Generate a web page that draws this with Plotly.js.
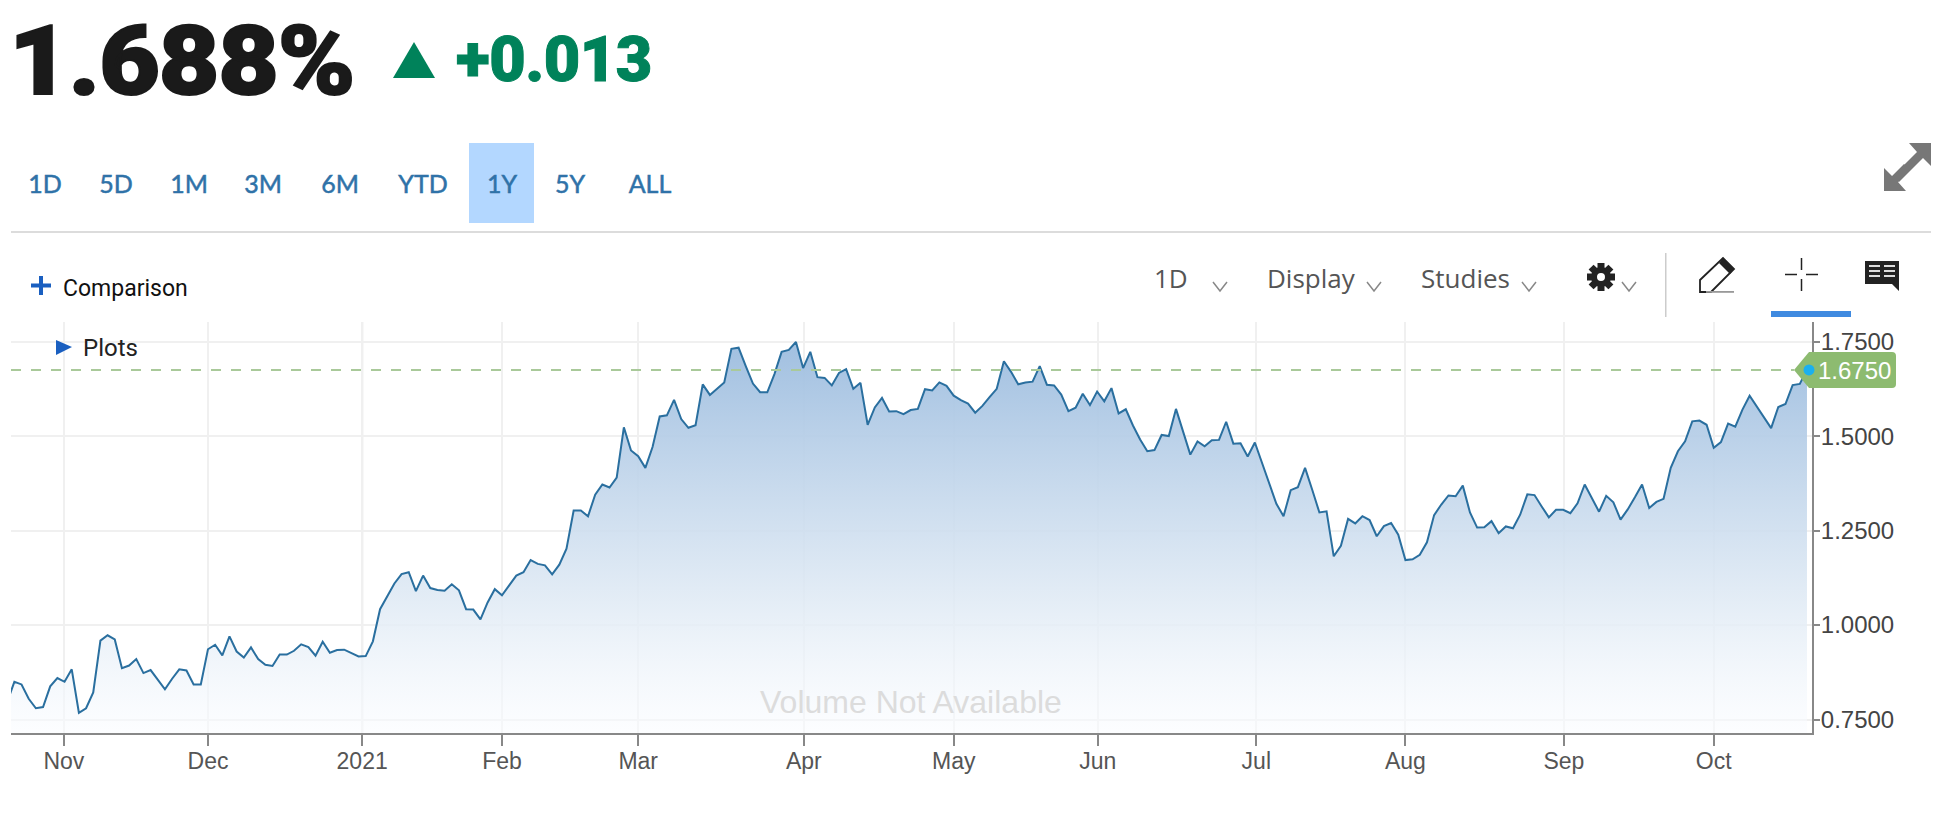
<!DOCTYPE html>
<html><head><meta charset="utf-8">
<script src="https://cdn.plot.ly/plotly-3.0.1.min.js"></script>
<style>
html,body{margin:0;padding:0;background:#fff;width:1946px;height:823px;overflow:hidden}
#chart{position:absolute;left:0;top:0;width:1946px;height:823px}
#ui{position:absolute;left:0;top:0;width:1946px;height:823px;pointer-events:none}
.t{position:absolute;white-space:nowrap;line-height:1}
.r{font-family:Lato,sans-serif;font-size:25px;color:#2f72a8;font-weight:400;-webkit-text-stroke:0.5px #2f72a8;top:171px;transform:translateX(-50%)}
.b{font-family:"Open Sans",sans-serif;font-size:26px;color:#555;top:265px}
</style></head><body>
<div id="chart"></div>
<div id="ui">
<svg width="1946" height="823" style="position:absolute;left:0;top:0">
<rect x="469" y="143" width="65" height="80" fill="#b3d7ff"/>
<rect x="11" y="231" width="1920" height="2" fill="#dcdcdc"/>
<path d="M393 78 L414 42 L435 78 Z" fill="#00825a"/>
<path d="M31 283.5H51V287.5H31ZM39 276H43V295H39Z" fill="#1a5fc0"/>
<path d="M56 340 L72 347 L56 355 Z" fill="#1a5fc0"/>
<g fill="none" stroke="#888" stroke-width="1.5">
<path d="M1213 282 L1220 291 L1227 282"/><path d="M1367 282 L1374 291 L1381 282"/>
<path d="M1522 282 L1529 291 L1536 282"/><path d="M1622 282 L1629 291 L1636 282"/></g>
<g transform="translate(1601 277)" fill="#222">
<circle r="7" fill="none" stroke="#222" stroke-width="6"/>
<rect x="-3.5" y="-14" width="7" height="6"/><rect x="-3.5" y="8" width="7" height="6"/><rect x="-14" y="-3.5" width="6" height="7"/><rect x="8" y="-3.5" width="6" height="7"/>
<g transform="rotate(45)"><rect x="-3.5" y="-14" width="7" height="6"/><rect x="-3.5" y="8" width="7" height="6"/><rect x="-14" y="-3.5" width="6" height="7"/><rect x="8" y="-3.5" width="6" height="7"/></g>
</g>
<rect x="1665" y="253" width="1.5" height="64" fill="#ccc"/>
<path d="M1700 292 L1700 280 L1723 258 L1734 269 L1711 292 Z" fill="none" stroke="#222" stroke-width="1.8"/>
<path d="M1723 258 L1734 269 L1730 274 L1719 263 Z" fill="#222"/>
<rect x="1706" y="291" width="28" height="1.8" fill="#999"/>
<path d="M1801.5 258V270M1801.5 279V291M1785 274.5H1797M1806 274.5H1818" stroke="#222" stroke-width="1.5" fill="none"/>
<rect x="1771" y="311" width="80" height="6" fill="#3f8ae0"/>
<path d="M1865 261H1899V291L1892 284H1865Z" fill="#222"/>
<path d="M1869 266H1880M1884 266H1895M1869 271H1880M1884 271H1895M1869 276H1880M1884 276H1895" stroke="#ddd" stroke-width="2"/>
<g fill="#777">
<path d="M1931 143V166L1923 158L1899 182L1893 176L1917 152L1909 143Z"/>
<path d="M1884 191V168L1892 176L1904 164L1910 170L1898 182L1906 191Z"/>
</g>
</svg>
<div class="t" style="left:9px;top:13px;font-family:Roboto,sans-serif;font-weight:900;font-size:96px;color:#1a1a1a;letter-spacing:-1px;-webkit-text-stroke:2px #1a1a1a;transform:scaleX(1.09);transform-origin:left top">1.688%</div>
<div class="t" style="left:456px;top:28px;font-family:Roboto,sans-serif;font-weight:900;font-size:63px;color:#00825a;letter-spacing:-0.5px;-webkit-text-stroke:1px #00825a">+0.013</div>
<div class="t r" style="left:45px">1D</div><div class="t r" style="left:116px">5D</div>
<div class="t r" style="left:189px">1M</div><div class="t r" style="left:263px">3M</div>
<div class="t r" style="left:340px">6M</div><div class="t r" style="left:423px">YTD</div>
<div class="t r" style="left:502px">1Y</div><div class="t r" style="left:570px">5Y</div>
<div class="t r" style="left:650px">ALL</div>
<div class="t" style="left:63px;top:277px;font-family:Roboto,sans-serif;font-size:23px;color:#111">Comparison</div>
<div class="t b" style="left:1154px">1D</div><div class="t b" style="left:1267px">Display</div><div class="t b" style="left:1421px">Studies</div>
<div class="t" style="left:83px;top:336px;font-family:Roboto,sans-serif;font-size:24px;color:#222">Plots</div>
</div>
<script>
const tickMonths = ["Nov","Dec","2021","Feb","Mar","Apr","May","Jun","Jul","Aug","Sep","Oct"];
const tickPositions = [7.9,28,49.5,69,88,111.1,132,152.1,174.2,195,217.1,238];
const priceTicks = [0.75,1.0,1.25,1.5,1.75];
const lastQuote = 1.675;
const yieldsOct = [0.797,0.850,0.843,0.805,0.780,0.783,0.838];
const yieldsNov = [0.860,0.850,0.883,0.768,0.780,0.822,0.959,0.973,0.962,0.886,0.893,0.910,0.873,0.881,0.856,0.830,0.858,0.883,0.880,0.843,0.843];
const yieldsDec = [0.936,0.948,0.920,0.970,0.930,0.914,0.941,0.910,0.895,0.892,0.922,0.922,0.932,0.949,0.942,0.919,0.956,0.927,0.934,0.935,0.925,0.917];
const yieldsJan = [0.918,0.957,1.042,1.075,1.110,1.135,1.140,1.090,1.131,1.098,1.093,1.091,1.108,1.092,1.042,1.041,1.015,1.060,1.095];
const yieldsFeb = [1.079,1.105,1.131,1.140,1.172,1.162,1.158,1.134,1.160,1.202,1.303,1.303,1.288,1.345,1.372,1.364,1.390,1.523,1.462];
const yieldsMar = [1.447,1.416,1.471,1.552,1.555,1.596,1.545,1.522,1.529,1.637,1.609,1.626,1.642,1.731,1.734,1.685,1.639,1.616,1.616,1.664,1.723,1.728,1.749];
const yieldsApr = [1.680,1.723,1.656,1.654,1.634,1.667,1.677,1.625,1.641,1.530,1.576,1.601,1.565,1.566,1.558,1.569,1.572,1.624,1.621,1.642,1.633];
const yieldsMay = [1.607,1.595,1.586,1.562,1.580,1.603,1.625,1.698,1.670,1.637,1.642,1.644,1.685,1.636,1.634,1.610,1.566,1.575,1.612,1.582];
const yieldsJun = [1.618,1.592,1.627,1.560,1.571,1.528,1.491,1.460,1.463,1.503,1.500,1.572,1.513,1.451,1.486,1.473,1.489,1.490,1.538,1.480,1.481,1.446];
const yieldsJul = [1.483,1.429,1.372,1.321,1.288,1.357,1.365,1.416,1.358,1.298,1.301,1.182,1.210,1.281,1.269,1.288,1.278,1.235,1.262,1.270,1.239];
const yieldsAug = [1.172,1.174,1.186,1.219,1.291,1.319,1.343,1.341,1.369,1.298,1.258,1.259,1.275,1.243,1.261,1.256,1.292,1.346,1.344,1.314,1.285,1.305];
const yieldsSep = [1.305,1.296,1.322,1.372,1.336,1.300,1.342,1.325,1.279,1.306,1.338,1.372,1.310,1.326,1.334,1.416,1.460,1.486,1.539,1.541,1.530];
const yieldsOct2 = [1.469,1.484,1.533,1.525,1.570,1.607,1.579,1.548,1.521,1.577,1.585,1.635,1.638,1.676];
const yields = [].concat(yieldsOct,yieldsNov,yieldsDec,yieldsJan,yieldsFeb,yieldsMar,yieldsApr,yieldsMay,yieldsJun,yieldsJul,yieldsAug,yieldsSep,yieldsOct2);
const sessions = yields.map((_,i)=>i);

const M={l:11,r:134,t:322,b:90}, W=1946, H=823;
const yRange=[0.7145,1.8019];
const px=x=>(x-M.l)/(W-M.l-M.r), py=y=>1-(y-M.t)/(H-M.t-M.b);
const P=(x,y)=>px(x).toFixed(5)+","+py(y).toFixed(5);
const yLabel = "M"+P(1794,370)+" L"+P(1809,352)+" L"+P(1892,352)+" Q"+P(1896,352)+" "+P(1896,356)+" L"+P(1896,384)+" Q"+P(1896,388)+" "+P(1892,388)+" L"+P(1809,388)+" Z";
const quotePaperY=(lastQuote-yRange[0])/(yRange[1]-yRange[0]);

const data=[{x:sessions,y:yields,mode:"lines",type:"scatter",fill:"tozeroy",
  line:{color:"#2a6f9f",width:2,shape:"linear"},
  fillgradient:{type:"vertical",start:0.713,stop:1.72,
    colorscale:[[0,"rgba(250,252,255,0.55)"],[0.3,"rgba(228,237,246,0.85)"],[1,"rgba(160,191,224,0.96)"]]},
  hoverinfo:"skip"}];
const layout={width:W,height:H,margin:M,paper_bgcolor:"#fff",plot_bgcolor:"#fff",showlegend:false,
  font:{family:"Liberation Sans, Arial, sans-serif"},
  xaxis:{range:[0.53,251.7],tickvals:tickPositions,ticktext:tickMonths,showgrid:true,gridcolor:"#f0f0f0",gridwidth:2,
    zeroline:false,showline:true,linecolor:"#888",linewidth:2,ticks:"outside",ticklen:11,tickcolor:"#888",tickwidth:2,
    tickfont:{size:23,color:"#555"},tickangle:0,ticklabelstandoff:-5},
  yaxis:{range:yRange,side:"right",tickvals:priceTicks,tickformat:".4f",showgrid:true,gridcolor:"#f0f0f0",gridwidth:2,
    zeroline:false,showline:true,linecolor:"#888",linewidth:2,ticks:"outside",ticklen:6,tickcolor:"#888",tickwidth:2,
    tickfont:{size:24,color:"#444"},ticklabelstandoff:-4},
  shapes:[
   {type:"line",xref:"x",yref:"paper",x0:tickPositions[2],x1:tickPositions[2],y0:0,y1:1,layer:"below",line:{color:"#cccccc",width:2}},
   {type:"line",xref:"paper",yref:"y",x0:0,x1:px(1794),y0:lastQuote,y1:lastQuote,layer:"above",line:{color:"#a9c99a",width:2,dash:"10px,10px"}},
   {type:"path",xref:"paper",yref:"paper",path:yLabel,fillcolor:"#8dbb70",line:{width:0},layer:"above"},
   {type:"circle",xref:"paper",yref:"paper",xsizemode:"pixel",ysizemode:"pixel",xanchor:px(1809),yanchor:quotePaperY,x0:-5.5,x1:5.5,y0:-5.5,y1:5.5,fillcolor:"#1bb0ee",line:{width:0},layer:"above"}
  ],
  annotations:[
   {text:"Volume Not Available",xref:"paper",yref:"paper",x:px(911),y:py(702),xanchor:"center",yanchor:"middle",showarrow:false,font:{size:32,color:"#dcdcdc"}},
   {text:lastQuote.toFixed(4),xref:"paper",yref:"paper",x:px(1854),y:py(370),xanchor:"center",yanchor:"middle",showarrow:false,font:{size:24,color:"#fff"}}
  ]};
Plotly.newPlot("chart",data,layout,{displayModeBar:false,staticPlot:true});
</script>
</body></html>
